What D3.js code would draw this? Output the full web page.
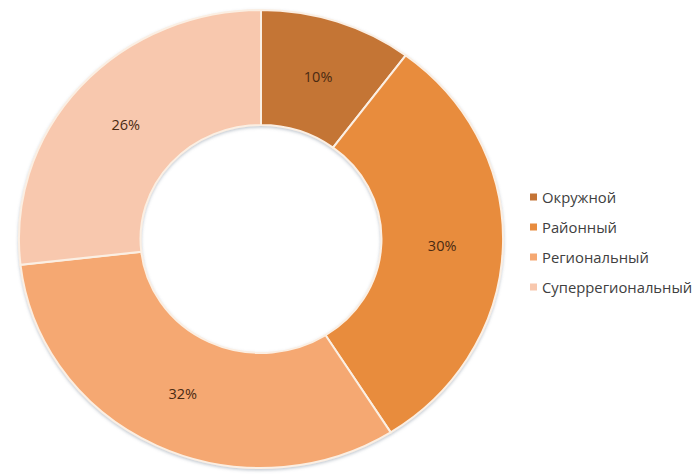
<!DOCTYPE html>
<html>
<head>
<meta charset="utf-8">
<script src="https://cdn.jsdelivr.net/npm/d3@7"></script>
<style>
    html, body { margin: 0; padding: 0; background: #fff; }
    text { font-family: "Open Sans", Lato, sans-serif; }
</style>
</head>
<body>
<div id="chart"></div>
<script>
// chart data
const categories = ['Окружной', 'Районный', 'Региональный', 'Суперрегиональный'];
const values = [10.2, 30.8, 32.2, 26.8];
const valueLabels = ['10%', '30%', '32%', '26%'];
const colors = ['#C47436', '#E88C3E', '#F5A872', '#F8C8AE'];

const width = 696;
const height = 474;
const cx = 261;
const cy = 239;
const outerR = 229;
const innerR = 114;
const stretchX = 1.057;

const svg = d3.select('#chart')
    .append('svg')
    .attr('width', width)
    .attr('height', height);

const defs = svg.append('defs');
const shadow = defs.append('filter')
    .attr('id', 'shadow')
    .attr('x', '-10%').attr('y', '-10%')
    .attr('width', '120%').attr('height', '120%');
shadow.append('feDropShadow')
    .attr('dx', 0).attr('dy', 1.5)
    .attr('stdDeviation', 1.5)
    .attr('flood-color', '#7a8a99')
    .attr('flood-opacity', 0.45);

const pie = d3.pie().sort(null).value(d => d);
const arcs = pie(values);

const arc = d3.arc()
    .innerRadius(innerR)
    .outerRadius(outerR);

const labelArc = d3.arc()
    .innerRadius((innerR + outerR) / 2)
    .outerRadius((innerR + outerR) / 2);

const ring = svg.append('g')
    .attr('transform', `translate(${cx},${cy}) scale(${stretchX},1)`)
    .attr('filter', 'url(#shadow)');

ring.selectAll('path')
    .data(arcs)
    .enter()
    .append('path')
    .attr('d', arc)
    .attr('fill', (d, i) => colors[i])
    .attr('stroke', '#FBEFE3')
    .attr('stroke-width', 2)
    .attr('vector-effect', 'non-scaling-stroke');

// data labels (kept unstretched)
svg.append('g')
    .selectAll('text')
    .data(arcs)
    .enter()
    .append('text')
    .attr('x', d => cx + labelArc.centroid(d)[0] * stretchX)
    .attr('y', d => cy + labelArc.centroid(d)[1])
    .attr('text-anchor', 'middle')
    .attr('dominant-baseline', 'central')
    .attr('font-size', 14.5)
    .attr('fill', '#4a2a12')
    .text((d, i) => valueLabels[i]);

// legend
const legendY = d3.scalePoint()
    .domain(categories)
    .range([197, 287]);

const legend = svg.append('g');
const rows = legend.selectAll('g')
    .data(categories)
    .enter()
    .append('g')
    .attr('transform', d => `translate(530,${legendY(d)})`);

rows.append('rect')
    .attr('x', 0)
    .attr('y', -3.5)
    .attr('width', 7)
    .attr('height', 7)
    .attr('fill', (d, i) => colors[i]);

rows.append('text')
    .attr('x', 12)
    .attr('y', 0)
    .attr('dominant-baseline', 'central')
    .attr('font-size', 14.8)
    .attr('fill', '#404040')
    .text(d => d);
</script>
</body>
</html>
